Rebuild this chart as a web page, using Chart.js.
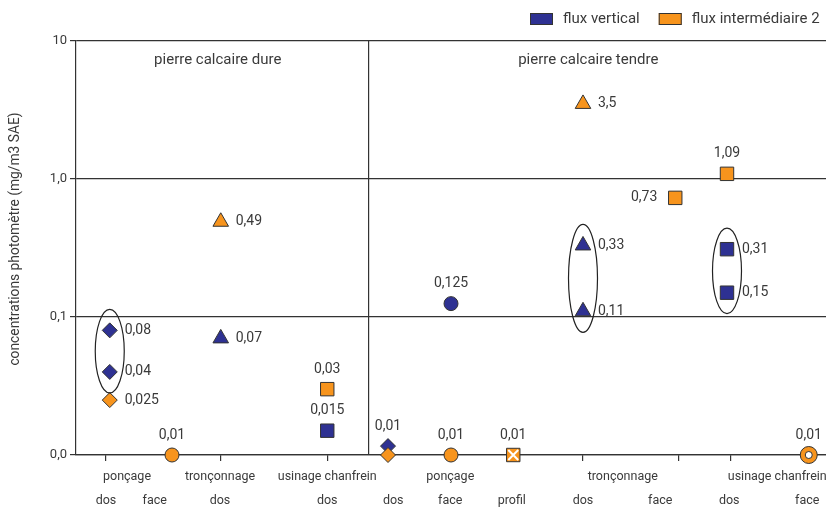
<!DOCTYPE html>
<html>
<head>
<meta charset="utf-8">
<script src="https://cdn.jsdelivr.net/npm/chart.js@4.4.0/dist/chart.umd.min.js"></script>
<style>
  html, body { margin: 0; padding: 0; background: #fff; overflow: hidden; }
  #wrap { width: 826px; height: 509px; }
</style>
</head>
<body>
<div id="wrap"><canvas id="c" width="826" height="509"></canvas></div>
<script>
// Horizontal positions on a 0–100 scale
const groupNames = ['ponçage', 'tronçonnage', 'usinage chanfrein', 'ponçage', 'tronçonnage', 'usinage chanfrein'];
const groupPos = [6.8, 19.2, 33.5, 49.9, 72.9, 93.5];
const faceNames = ['dos', 'face', 'dos', 'dos', 'dos', 'face', 'profil', 'dos', 'face', 'dos', 'face'];
const facePos = [4.0, 10.5, 19.2, 33.5, 42.3, 49.9, 58.1, 67.6, 77.9, 87.1, 97.5];
const tickPos = [3.9, 12.8, 19.3, 33.5, 41.6, 50.0, 58.3, 67.6, 80.3, 87.3, 97.7];
const dividerPos = 39;
const panelNames = ['pierre calcaire dure', 'pierre calcaire tendre'];
const panelPos = [18.9, 68.3];

// Vertical log axis
const yTicks = [0.01, 0.1, 1, 10];
const yTickLabels = ['0,0', '0,1', '1,0', '10'];
const yTitle = 'concentrations photomètre (mg/m3 SAE)';

const seriesNames = ['flux vertical', 'flux intermédiaire 2'];
const seriesColors = ['#2E3192', '#F7941D'];

// flux vertical
const blueX = [4.5, 4.5, 19.3, 33.5, 41.6, 50.0, 67.6, 67.6, 86.8, 86.8];
const blueY = [0.08, 0.04, 0.07, 0.015, 0.0116, 0.125, 0.33, 0.11, 0.31, 0.15];
const blueShape = ['rectRot', 'rectRot', 'triangle', 'rect', 'rectRot', 'circle', 'triangle', 'triangle', 'rect', 'rect'];
const blueLabelSide = ['right', 'right', 'right', 'above', 'above', 'above', 'right', 'right', 'right', 'right'];
const blueDecimals = [2, 2, 2, 3, 2, 3, 2, 2, 2, 2];
const circledGroups = [[0, 1], [6, 7], [8, 9]];

// flux intermédiaire 2
const orangeX = [4.5, 12.8, 19.3, 33.5, 41.6, 50.0, 58.3, 67.6, 79.9, 86.8, 97.7];
const orangeY = [0.025, 0.01, 0.49, 0.03, 0.01, 0.01, 0.01, 3.5, 0.73, 1.09, 0.01];
const orangeShape = ['rectRot', 'circle', 'triangle', 'rect', 'rectRot', 'circle', 'rect', 'triangle', 'rect', 'rect', 'circle'];
const orangeLabelSide = ['right', 'above', 'right', 'above', 'none', 'above', 'above', 'right', 'left', 'above', 'above'];
const orangeDecimals = [3, 2, 2, 2, 2, 2, 2, 1, 2, 2, 2];
const crossedMarks = [6];
const ringMarks = [10];

const LINE = '#333333';
const TEXT = '#3a3a3a';
const FONT = 'Roboto, "Open Sans", sans-serif';
const shapeRadius = { rectRot: 7.5, circle: 7, triangle: 9, rect: 9.5 };

const toPoints = (xs, ys) => xs.map((x, i) => ({ x, y: ys[i] }));
const fmt = (v, d) => v.toFixed(d).replace('.', ',');

const BLUE = 3, ORANGE = 2;

const datasets = [
  {
    label: 'croix',
    data: crossedMarks.map(i => ({ x: orangeX[i], y: orangeY[i] })),
    pointStyle: 'crossRot', pointRadius: 7, borderColor: '#fff', borderWidth: 2,
    backgroundColor: 'transparent', clip: false
  },
  {
    label: 'anneau',
    data: ringMarks.map(i => ({ x: orangeX[i], y: orangeY[i] })),
    pointStyle: 'circle', pointRadius: 3.5, borderColor: LINE, borderWidth: 1,
    backgroundColor: '#fff', clip: false
  },
  {
    label: seriesNames[1],
    data: toPoints(orangeX, orangeY),
    pointStyle: orangeShape,
    pointRadius: orangeShape.map((s, i) => ringMarks.includes(i) ? 8.5 : shapeRadius[s]),
    backgroundColor: seriesColors[1], borderColor: LINE, borderWidth: 1, clip: false
  },
  {
    label: seriesNames[0],
    data: toPoints(blueX, blueY),
    pointStyle: blueShape,
    pointRadius: blueShape.map(s => shapeRadius[s]),
    backgroundColor: seriesColors[0], borderColor: LINE, borderWidth: 1, clip: false
  }
];

// Ellipses grouping the repeated measurements
const ellipsePlugin = {
  id: 'groupEllipses',
  afterDatasetsDraw(chart) {
    const meta = chart.getDatasetMeta(BLUE);
    const ctx = chart.ctx;
    ctx.save();
    ctx.strokeStyle = '#222';
    ctx.lineWidth = 1.2;
    circledGroups.forEach(g => {
      const pts = g.map(i => meta.data[i]);
      const cx = pts.reduce((s, p) => s + p.x, 0) / pts.length;
      const top = Math.min(...pts.map(p => p.y)) - 21;
      const bottom = Math.max(...pts.map(p => p.y)) + 21;
      ctx.beginPath();
      ctx.ellipse(cx, (top + bottom) / 2, 14.5, (bottom - top) / 2, 0, 0, Math.PI * 2);
      ctx.stroke();
    });
    ctx.restore();
  }
};

// Value labels next to each mark
const valueLabelPlugin = {
  id: 'valueLabels',
  afterDatasetsDraw(chart) {
    const ctx = chart.ctx;
    ctx.save();
    ctx.font = '14px ' + FONT;
    ctx.fillStyle = TEXT;
    const series = [
      { idx: ORANGE, ys: orangeY, side: orangeLabelSide, dec: orangeDecimals },
      { idx: BLUE, ys: blueY, side: blueLabelSide, dec: blueDecimals }
    ];
    series.forEach(s => {
      const meta = chart.getDatasetMeta(s.idx);
      meta.data.forEach((pt, i) => {
        const side = s.side[i];
        if (side === 'none') return;
        const txt = fmt(s.ys[i], s.dec[i]);
        ctx.textBaseline = 'middle';
        if (side === 'right') {
          ctx.textAlign = 'left';
          ctx.fillText(txt, pt.x + 15, pt.y);
        } else if (side === 'left') {
          ctx.textAlign = 'right';
          ctx.fillText(txt, pt.x - 18, pt.y);
        } else {
          ctx.textAlign = 'center';
          ctx.fillText(txt, pt.x, pt.y - 20);
        }
      });
    });
    ctx.restore();
  }
};

// Category labels, panel titles, axis title and legend
const decorPlugin = {
  id: 'decor',
  afterDraw(chart) {
    const ctx = chart.ctx;
    const xs = chart.scales.x;
    const area = chart.chartArea;
    ctx.save();
    ctx.fillStyle = TEXT;
    ctx.textAlign = 'center';
    ctx.textBaseline = 'middle';
    ctx.font = '12.5px ' + FONT;
    groupNames.forEach((n, i) => ctx.fillText(n, xs.getPixelForValue(groupPos[i]), area.bottom + 21.5));
    faceNames.forEach((n, i) => ctx.fillText(n, xs.getPixelForValue(facePos[i]), area.bottom + 45.5));

    ctx.font = '15px ' + FONT;
    panelNames.forEach((n, i) => ctx.fillText(n, xs.getPixelForValue(panelPos[i]), area.top + 19));

    // vertical axis title
    ctx.save();
    ctx.font = '13.8px ' + FONT;
    ctx.translate(16, (area.top + area.bottom) / 2 - 9);
    ctx.rotate(-Math.PI / 2);
    ctx.fillText(yTitle, 0, 0);
    ctx.restore();

    // legend
    ctx.textAlign = 'left';
    let x = 530;
    const boxY = 13;
    seriesNames.forEach((n, i) => {
      ctx.fillStyle = seriesColors[i];
      ctx.fillRect(x, boxY, 23, 12);
      ctx.strokeStyle = LINE;
      ctx.lineWidth = 1;
      ctx.strokeRect(x + 0.5, boxY + 0.5, 22, 11);
      ctx.fillStyle = TEXT;
      ctx.fillText(n, x + 33, boxY + 6.5);
      x += 33 + ctx.measureText(n).width + 19;
    });
    ctx.restore();
  }
};

new Chart(document.getElementById('c'), {
  type: 'scatter',
  data: { datasets },
  options: {
    responsive: false,
    animation: false,
    events: [],
    layout: { autoPadding: false, padding: { top: 41, right: 0, bottom: 0, left: 0 } },
    plugins: { legend: { display: false }, tooltip: { enabled: false } },
    scales: {
      x: {
        type: 'linear', min: 0, max: 100,
        afterBuildTicks: s => { s.ticks = tickPos.concat([dividerPos]).map(v => ({ value: v })); },
        afterFit: s => { s.height = 54; },
        ticks: { display: true, callback: () => '', padding: 0 },
        grid: {
          color: c => (c.tick && c.tick.value === dividerPos) ? LINE : 'rgba(0,0,0,0)',
          tickColor: c => (c.tick && c.tick.value === dividerPos) ? 'rgba(0,0,0,0)' : LINE,
          lineWidth: 1.2, tickLength: 6, tickWidth: 1.2
        },
        border: { display: true, color: LINE, width: 1.2 }
      },
      y: {
        type: 'logarithmic', min: 0.01, max: 10,
        afterBuildTicks: s => { s.ticks = yTicks.map(v => ({ value: v })); },
        afterFit: s => { s.width = 76; },
        ticks: {
          callback: (v, i) => yTickLabels[i],
          font: { size: 13, family: FONT }, color: TEXT, padding: 3
        },
        grid: { color: LINE, lineWidth: 1.2, tickLength: 6 },
        border: { display: true, color: LINE, width: 1.2 },
        title: { display: false }
      }
    }
  },
  plugins: [ellipsePlugin, valueLabelPlugin, decorPlugin]
});
</script>
</body>
</html>
